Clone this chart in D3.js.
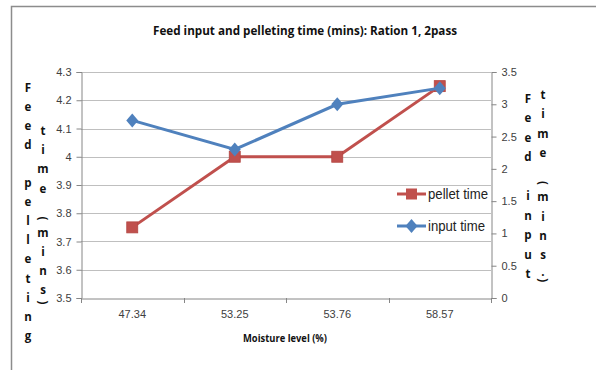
<!DOCTYPE html>
<html><head><meta charset="utf-8">
<script src="https://cdn.jsdelivr.net/npm/d3@7"></script>
<style>
html,body{margin:0;padding:0;background:#fff;}
svg{display:block;}
</style></head>
<body>
<svg id="chart" width="596" height="370"></svg>
<script>
const categories = ["47.34", "53.25", "53.76", "58.57"];
const pelletTime = [3.75, 4.0, 4.0, 4.25];
const inputTime = [2.75, 2.3, 3.0, 3.25];
const leftTicks = [3.5, 3.6, 3.7, 3.8, 3.9, 4.0, 4.1, 4.2, 4.3];
const rightTicks = [0, 0.5, 1, 1.5, 2, 2.5, 3, 3.5];
const titleText = "Feed input and pelleting time (mins): Ration 1, 2pass";
const xTitle = "Moisture level (%)";
const leftTitleCols = ["Feed pelleting", "time (mins)"];
const rightTitleCols = ["Feed input", "time (mins.)"];
const seriesNames = ["pellet time", "input time"];

const svg = d3.select("#chart");
const L = 81, R = 491, T = 72, B = 298;
const red = "#C0504D", blue = "#4F81BD";
const font = "'Liberation Sans', Arial, sans-serif";
const boldFont = "'Open Sans', 'Liberation Sans', sans-serif";

// outer frame
svg.append("rect").attr("x", 11.5).attr("y", 6.5).attr("width", 700).attr("height", 500)
  .attr("fill", "none").attr("stroke", "#8c8c8c").attr("stroke-width", 1.5);

const x = d3.scaleBand().domain(categories).range([L, R]).padding(0);
const yL = d3.scaleLinear().domain([3.5, 4.3]).range([B, T]);
const yR = d3.scaleLinear().domain([0, 3.5]).range([B, T]);

// gridlines
svg.append("g").selectAll("line").data(leftTicks.slice(1)).join("line")
  .attr("x1", L).attr("x2", R)
  .attr("y1", d => Math.round(yL(d)) + 0.5).attr("y2", d => Math.round(yL(d)) + 0.5)
  .attr("stroke", "#bfbfbf").attr("stroke-width", 1);

// left axis
const gL = svg.append("g").attr("transform", `translate(${L + 0.5},0)`)
  .call(d3.axisLeft(yL).tickValues(leftTicks).tickSize(5).tickPadding(5)
    .tickFormat(d => d === 4 ? "4" : d3.format(".1f")(d)));
// right axis
const gR = svg.append("g").attr("transform", `translate(${R + 0.5},0)`)
  .call(d3.axisRight(yR).tickValues(rightTicks).tickSize(5).tickPadding(5)
    .tickFormat(d => String(d)));
[gL, gR].forEach(g => {
  g.select(".domain").attr("stroke", "#868686");
  g.selectAll(".tick line").attr("stroke", "#868686");
  g.selectAll(".tick text").attr("fill", "#404040").attr("font-family", font).attr("font-size", 11);
});

// x axis
const gX = svg.append("g").attr("transform", `translate(0,${B + 0.5})`)
  .call(d3.axisBottom(x).tickSize(0).tickPadding(12));
gX.select(".domain").attr("stroke", "#868686");
gX.selectAll(".tick text").attr("fill", "#404040").attr("font-family", font).attr("font-size", 11);
const bounds = categories.map(c => x(c)).concat([x.range()[1]]);
svg.append("g").selectAll("line").data(bounds).join("line")
  .attr("x1", d => Math.round(d) + 0.5).attr("x2", d => Math.round(d) + 0.5)
  .attr("y1", B).attr("y2", B + 5).attr("stroke", "#868686");

// title
svg.append("text").attr("x", 153).attr("y", 35).text(titleText)
  .attr("font-family", boldFont).attr("font-weight", "bold").attr("font-size", 13)
  .attr("fill", "#111").attr("textLength", 304).attr("lengthAdjust", "spacingAndGlyphs");
// x title
svg.append("text").attr("x", 243).attr("y", 342).text(xTitle)
  .attr("font-family", boldFont).attr("font-weight", "bold").attr("font-size", 11)
  .attr("fill", "#111").attr("textLength", 84).attr("lengthAdjust", "spacingAndGlyphs");

// stacked vertical titles
function stacked(str, cx, start, step) {
  const g = svg.append("g").attr("font-family", boldFont).attr("font-weight", "bold")
    .attr("font-size", 11.5).attr("fill", "#111");
  let y = start, prev = null;
  const chars = Array.from(str);
  chars.forEach((ch, i) => {
    const next = chars[i + 1];
    if (i > 0) {
      if (ch === " ") { if (next !== "(") y += step; prev = ch; return; }
      if (ch === "(") { y += step * 1.35; }
      else if (ch === ")") { y += prev === "." ? 4.7 : 8; }
      else if (ch === ".") { y += step * 0.85; }
      else if (prev === "(") { y += step * 0.95; }
      else if (prev === " ") { y += step; }
      else y += step;
    }
    if (ch === "(" || ch === ")") {
      g.append("text").attr("x", cx).attr("y", y).text(ch)
        .attr("text-anchor", "middle").attr("dominant-baseline", "central")
        .attr("transform", `rotate(90,${cx},${y})`);
      y -= 0; 
    } else {
      g.append("text").attr("x", cx).attr("y", y).text(ch).attr("text-anchor", "middle");
    }
    prev = ch;
  });
}
stacked(leftTitleCols[0], 28, 91.5, 19.1);
stacked(leftTitleCols[1], 43, 135, 19.2);
stacked(rightTitleCols[0], 528, 102.5, 19.5);
stacked(rightTitleCols[1], 543, 99, 19.3);

// series
const cx = d => x(d) + x.bandwidth() / 2;
const linePellet = d3.line().x((d, i) => cx(categories[i])).y(d => yL(d));
const lineInput = d3.line().x((d, i) => cx(categories[i])).y(d => yR(d));
svg.append("path").datum(pelletTime).attr("d", linePellet)
  .attr("fill", "none").attr("stroke", red).attr("stroke-width", 3);
svg.append("g").selectAll("rect").data(pelletTime).join("rect")
  .attr("x", (d, i) => cx(categories[i]) - 5.5).attr("y", d => yL(d) - 5.5)
  .attr("width", 11).attr("height", 11).attr("fill", red).attr("stroke", "#b34542").attr("stroke-width", 0.8);
svg.append("path").datum(inputTime).attr("d", lineInput)
  .attr("fill", "none").attr("stroke", blue).attr("stroke-width", 3);
const diamond = "M0,-7L6,0L0,7L-6,0Z";
svg.append("g").selectAll("path").data(inputTime).join("path")
  .attr("d", diamond)
  .attr("transform", (d, i) => `translate(${cx(categories[i])},${yR(d)})`)
  .attr("fill", blue);

// legend
const legY = [194, 226];
const legColors = [red, blue];
seriesNames.forEach((name, i) => {
  const g = svg.append("g");
  g.append("line").attr("x1", 397).attr("x2", 426).attr("y1", legY[i]).attr("y2", legY[i])
    .attr("stroke", legColors[i]).attr("stroke-width", 3);
  if (i === 0) g.append("rect").attr("x", 411.5 - 5.5).attr("y", legY[i] - 5.5).attr("width", 11).attr("height", 11).attr("fill", red);
  else g.append("path").attr("d", diamond).attr("transform", `translate(411.5,${legY[i]})`).attr("fill", blue);
  g.append("text").attr("x", 428).attr("y", legY[i] + 5).text(name)
    .attr("font-family", font).attr("font-size", 14).attr("fill", "#222")
    .attr("textLength", i === 0 ? 60 : 57).attr("lengthAdjust", "spacingAndGlyphs");
});
</script>
</body></html>
